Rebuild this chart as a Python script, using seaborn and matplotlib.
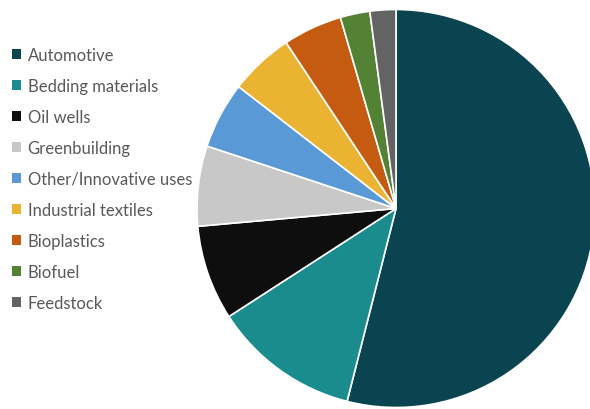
import matplotlib
matplotlib.use("Agg")
import matplotlib.pyplot as plt
import seaborn as sns

categories = ["Automotive", "Bedding materials", "Oil wells", "Greenbuilding",
              "Other/Innovative uses", "Industrial textiles", "Bioplastics",
              "Biofuel", "Feedstock"]
values = [53.9, 11.9, 7.7, 6.5, 5.4, 5.2, 4.8, 2.4, 2.1]
colors = ["#0A4451", "#1B8C8E", "#0E0E0E", "#C8C8C8", "#5899D6",
          "#EBB332", "#C55A11", "#548235", "#636363"]

sns.set_theme(style="white")
plt.rcParams['font.family'] = ['Lato', 'DejaVu Sans']

W, H = 590, 410
fig = plt.figure(figsize=(W / 100, H / 100), dpi=100)
ax = fig.add_axes([0, 0, 1, 1])
wedges, _ = ax.pie(values, colors=sns.color_palette(colors), startangle=90,
                   counterclock=False, center=(396, H - 209.5), radius=199,
                   wedgeprops=dict(edgecolor="white", linewidth=1.2))
ax.set_xlim(0, W)
ax.set_ylim(0, H)
ax.set_aspect("equal")
ax.axis("off")

leg = ax.legend(wedges, categories, loc="upper left",
                bbox_to_anchor=(5 / W, 1 - 41 / H), frameon=False,
                fontsize=12, handlelength=0.55, handleheight=0.55,
                handletextpad=0.4, labelspacing=0.90, borderaxespad=0)
for t in leg.get_texts():
    t.set_color("#595959")
for h in leg.legend_handles:
    h.set_edgecolor("none")

fig.savefig("out.png", dpi=100)
